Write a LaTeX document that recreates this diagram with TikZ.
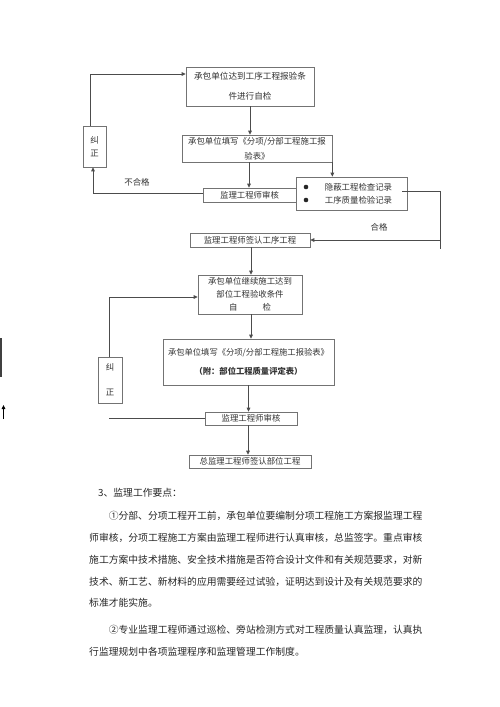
\documentclass[tikz,border=0pt]{standalone}
\usepackage{fontspec}
\setmainfont{Noto Sans CJK SC}
\usetikzlibrary{arrows.meta}
\begin{document}
\begin{tikzpicture}[x=1pt,y=-1pt,
  box/.style={draw=black!55, line width=0.7pt, inner sep=0pt, align=center, text=black!80},
  ln/.style={draw=black!70, line width=0.8pt},
  arr/.style={ln, -{Triangle[length=4pt,width=3.6pt]}},
  para/.style={anchor=west, inner sep=0pt, font=\fontsize{9.8}{12}\selectfont, text=black!85},
  lbl/.style={inner sep=0pt, font=\fontsize{8.4}{10}\selectfont, text=black!80}]
\useasboundingbox (0,0) rectangle (500,707);
\fill[white] (0,0) rectangle (500,707);

% boxes
\node[box, minimum width=128pt, minimum height=39pt, font=\fontsize{8.6}{20}\selectfont] (b1) at (250,86.5) {承包单位达到工序工程报验条\\件进行自检};
\node[box, minimum width=23pt, minimum height=41pt, font=\fontsize{8.4}{13}\selectfont] (k1) at (94.5,146.5) {纠\\正};
\node[box, minimum width=150pt, minimum height=27pt, font=\fontsize{8.4}{15}\selectfont] (b2) at (257,148.5) {承包单位填写《分项/分部工程施工报\\验表》};
\node[box, minimum width=93pt, minimum height=14pt, font=\fontsize{8.4}{10}\selectfont] (b3) at (249.5,195) {监理工程师审核};
\node[box, minimum width=111pt, minimum height=33pt, font=\fontsize{8.4}{13}\selectfont] (b4) at (351.5,193.5) {\hspace{14pt}隐蔽工程检查记录\\\hspace{14pt}工序质量检验记录};
\node[box, minimum width=120pt, minimum height=14pt, font=\fontsize{8.4}{10}\selectfont] (b5) at (250,240) {监理工程师签认工序工程};
\node[box, minimum width=104pt, minimum height=39pt, font=\fontsize{8.4}{13}\selectfont] (b6) at (250,294.5) {承包单位继续施工达到\\部位工程验收条件\\自\hspace{25pt}检};
\node[box, minimum width=171pt, minimum height=46pt, font=\fontsize{8.3}{19}\selectfont] (b7) at (248.5,362) {承包单位填写《分项/分部工程施工报验表》\\{\bfseries （附：部位工程质量评定表）}};
\node[box, minimum width=24pt, minimum height=46pt, font=\fontsize{8.4}{25}\selectfont] (k2) at (110,380) {纠\\正};
\node[box, minimum width=92pt, minimum height=13pt, font=\fontsize{8.4}{10}\selectfont] (b8) at (251,418.5) {监理工程师审核};
\node[box, minimum width=122pt, minimum height=13pt, font=\fontsize{8.4}{10}\selectfont] (b9) at (250,461.5) {总监理工程师签认部位工程};

% bullets
\fill[black!85] (306,187) circle (2.3pt);
\fill[black!85] (306,200) circle (2.3pt);

% labels
\node[lbl] (l1) at (137,182) {不合格};
\node[lbl] (l2) at (379,227) {合格};

% connectors
\draw[arr] ([xshift=-4.5pt]k1.north) |- ([yshift=12.5pt]b1.west);
\draw[arr] (b1.south) -- (b2.north -| b1.south);
\draw[arr] ([xshift=-8pt]b2.south) -- ([xshift=-8pt]b2.south |- b3.north);
\draw[arr] (b2.south east) -- (b2.south east |- b4.north);
\draw[arr] ([yshift=2pt]b3.west) -| ([xshift=-1.5pt]k1.south);
\coordinate (g1) at (402,191);
\coordinate (g2) at (440,191);
\coordinate (g3) at (440,249);
\draw[ln] (g1) -- (g2) -- (g3);
\draw[arr] (g2 |- b5.east) -- (b5.east);
\draw[arr] ([xshift=1pt]b5.south) -- ([xshift=1pt]b5.south |- b6.north);
\draw[arr] ([xshift=-1pt]k2.north) |- ([yshift=-2.5pt]b6.west);
\draw[arr] ([xshift=1pt]b6.south) -- ([xshift=1pt]b6.south |- b7.north);
\draw[arr] (b7.south) -- (b7.south |- b8.north);
\coordinate (e1) at (109,418.5);
\draw[ln] (b8.west) -- (e1);
\draw[arr] ([xshift=-3pt]b8.south) -- ([xshift=-3pt]b8.south |- b9.north);

% stray marks at the left edge
\coordinate (a1) at (1,338);
\coordinate (a2) at (1,377);
\draw[line width=1.4pt, black!75] (a1) -- (a2);
\coordinate (a3) at (3.5,419);
\coordinate (a4) at (3.5,405);
\draw[line width=0.8pt, black, -{Triangle[length=4pt,width=3.6pt]}] (a3) -- (a4);

% text
\node[para] (p0) at (98,493) {3、监理工作要点：};
\node[para] (p1) at (108.6,516) {①分部、分项工程开工前，承包单位要编制分项工程施工方案报监理工程};
\node[para] (p2) at (89,538) {师审核，分项工程施工方案由监理工程师进行认真审核，总监签字。重点审核};
\node[para] (p3) at (89,560) {施工方案中技术措施、安全技术措施是否符合设计文件和有关规范要求，对新};
\node[para] (p4) at (89,582) {技术、新工艺、新材料的应用需要经过试验，证明达到设计及有关规范要求的};
\node[para] (p5) at (89,603) {标准才能实施。};
\node[para] (p6) at (108.6,630) {②专业监理工程师通过巡检、旁站检测方式对工程质量认真监理，认真执};
\node[para] (p7) at (89,652) {行监理规划中各项监理程序和监理管理工作制度。};
\end{tikzpicture}
\end{document}
